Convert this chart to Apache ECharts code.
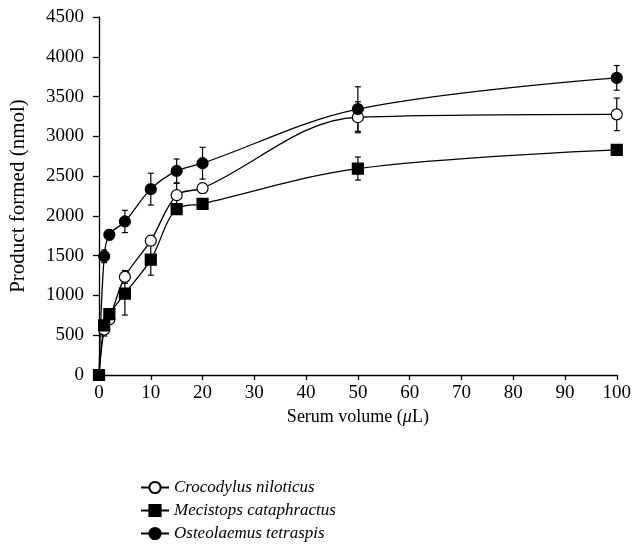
<!DOCTYPE html>
<html><head><meta charset="utf-8">
<script src="https://cdn.jsdelivr.net/npm/echarts@6/dist/echarts.min.js"></script>
<style>html,body{margin:0;padding:0;background:#fff}#c{width:634px;height:550px}</style>
</head><body><div id="c"></div>
<script>
const xValues = [0, 1, 2, 5, 10, 15, 20, 50, 100];
const seriesNames = ['Crocodylus niloticus', 'Mecistops cataphractus', 'Osteolaemus tetraspis'];
const crocodylus = [0, 570, 700, 1233, 1688, 2260, 2348, 3240, 3276];
const mecistops = [0, 623, 765, 1024, 1450, 2085, 2152, 2595, 2829];
const osteolaemus = [0, 1492, 1763, 1930, 2336, 2565, 2662, 3343, 3735];
const crocodylusErr = [0, 80, 60, 80, 60, 150, 60, 195, 205];
const mecistopsErr = [0, 60, 50, 270, 195, 50, 40, 145, 50];
const osteolaemusErr = [0, 80, 65, 140, 200, 150, 200, 280, 155];
const yTicks = {min: 0, max: 4500, interval: 500};
const xTicks = {min: 0, max: 100, interval: 10};

const FONT = "'Liberation Serif', 'DejaVu Serif', serif";
const chart = echarts.init(document.getElementById('c'));

function pairs(vals) { return xValues.map((x, i) => [x, vals[i]]); }
function errData(vals, errs) { return xValues.map((x, i) => [x, vals[i] - errs[i], vals[i] + errs[i]]); }
function errSeries(vals, errs) {
  return {
    type: 'custom',
    data: errData(vals, errs),
    z: 1,
    silent: true,
    renderItem: function (params, api) {
      const x = api.value(0);
      const lo = api.coord([x, api.value(1)]);
      const hi = api.coord([x, api.value(2)]);
      const w = 3;
      const st = {stroke: '#000', lineWidth: 1.2};
      return {type: 'group', children: [
        {type: 'line', shape: {x1: lo[0], y1: lo[1], x2: hi[0], y2: hi[1]}, style: st},
        {type: 'line', shape: {x1: lo[0] - w, y1: lo[1], x2: lo[0] + w, y2: lo[1]}, style: st},
        {type: 'line', shape: {x1: hi[0] - w, y1: hi[1], x2: hi[0] + w, y2: hi[1]}, style: st}
      ]};
    }
  };
}
function lineSeries(name, vals, symbol, fill) {
  return {
    name: name, type: 'line', data: pairs(vals), smooth: 0.35,
    symbol: symbol, symbolSize: 11,
    z: 3,
    lineStyle: {color: '#000', width: 1.3},
    itemStyle: {color: fill, borderColor: '#000', borderWidth: 1.2},
    emphasis: {disabled: true}
  };
}

chart.setOption({
  animation: false,
  backgroundColor: '#fff',
  grid: {left: 98, right: 17, top: 17, bottom: 175},
  xAxis: {
    type: 'value', min: xTicks.min, max: xTicks.max, interval: xTicks.interval,
    axisLine: {lineStyle: {color: '#000', width: 1.3}},
    axisTick: {show: true, length: 5, lineStyle: {color: '#000', width: 1.3}},
    splitLine: {show: false},
    axisLabel: {color: '#000', fontFamily: FONT, fontSize: 19, margin: 9, formatter: v => String(v)},
    name: '{n|Serum volume (}{i|μ}{n|L)}',
    nameLocation: 'middle', nameGap: 27,
    nameTextStyle: {rich: {
      n: {fontFamily: FONT, fontSize: 18, color: '#000'},
      i: {fontFamily: FONT, fontSize: 18, color: '#000', fontStyle: 'italic'}
    }}
  },
  yAxis: {
    type: 'value', min: yTicks.min, max: yTicks.max, interval: yTicks.interval,
    axisLine: {show: true, lineStyle: {color: '#000', width: 1.3}},
    axisTick: {show: true, length: 6, lineStyle: {color: '#000', width: 1.3}},
    splitLine: {show: false},
    axisLabel: {color: '#000', fontFamily: FONT, fontSize: 19, margin: 15, formatter: v => String(v)},
    name: 'Product formed (nmol)', nameLocation: 'middle', nameGap: 70,
    nameTextStyle: {fontFamily: FONT, fontSize: 21, color: '#000'}
  },
  legend: {
    orient: 'vertical', left: 140, top: 479, padding: 0, itemGap: 6,
    itemWidth: 28, itemHeight: 14,
    textStyle: {fontFamily: FONT, fontSize: 17, fontStyle: 'italic', color: '#000', lineHeight: 14},
    data: seriesNames
  },
  series: [
    errSeries(crocodylus, crocodylusErr),
    errSeries(mecistops, mecistopsErr),
    errSeries(osteolaemus, osteolaemusErr),
    lineSeries(seriesNames[0], crocodylus, 'circle', '#fff'),
    lineSeries(seriesNames[1], mecistops, 'rect', '#000'),
    lineSeries(seriesNames[2], osteolaemus, 'circle', '#000')
  ]
});
</script></body></html>
